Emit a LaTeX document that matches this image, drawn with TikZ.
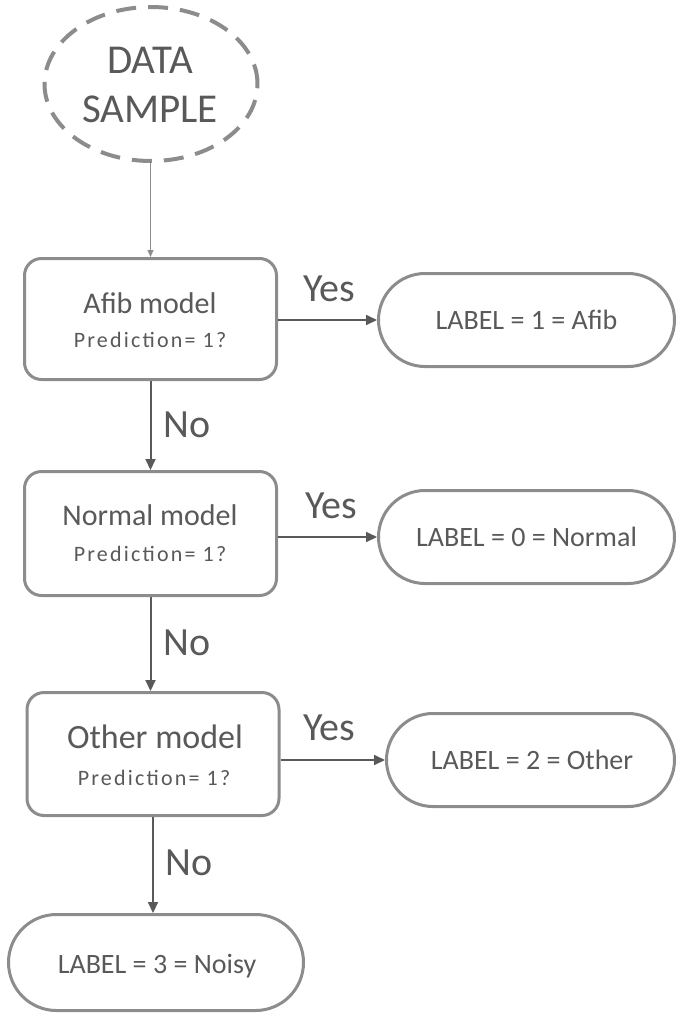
\documentclass[tikz,border=0pt]{standalone}
\usepackage{fontspec}
\setmainfont{Carlito}
\newfontfamily\predfont[LetterSpace=10]{Carlito}
\usetikzlibrary{arrows.meta,shapes.geometric,shapes.misc}
\definecolor{boxgray}{HTML}{8C8C8C}
\definecolor{txtgray}{HTML}{595959}
\definecolor{arrgray}{HTML}{595959}
\tikzset{
  box/.style={draw=boxgray, line width=3pt, rounded corners=17pt, fill=white,
    minimum width=252pt, minimum height=121pt, inner sep=0pt},
  pill/.style={draw=boxgray, line width=3pt, rounded rectangle, fill=white,
    minimum width=296pt, minimum height=93pt, inner sep=0pt},
  txt/.style={text=txtgray, inner sep=0pt, anchor=base},
  flow/.style={draw=arrgray, line width=2pt, -{Triangle[length=11pt,width=10pt]}},
  thinflow/.style={draw=boxgray, line width=1.2pt, -{Triangle[length=7pt,width=6pt]}},
  lbl/.style={txt, anchor=base west, font=\fontsize{40}{48}\selectfont},
  big/.style={txt, font=\fontsize{41}{49}\selectfont},
  model/.style={txt, font=\fontsize{30}{36}\selectfont},
  pred/.style={txt, font=\predfont\fontsize{22}{26}\selectfont},
  res/.style={txt, font=\fontsize{28}{33}\selectfont},
}
\begin{document}
\begin{tikzpicture}[x=1pt,y=-1pt]
\useasboundingbox (0,0) rectangle (688,1015);

% start ellipse
\node[ellipse, draw=boxgray, line width=4pt, dash pattern=on 20pt off 12pt,
  minimum width=213pt, minimum height=154pt, inner sep=0pt] (data) at (151,84) {};
\node[big] (dataT1) at (150,73) {DATA};
\node[big] (dataT2) at (150,122) {SAMPLE};

% decision boxes
\node[box] (afib) at (150.5,319) {};
\node[model] (afibT1) at (150,313) {Afib model};
\node[pred] (afibT2) at (150,347) {Prediction= 1?};

\node[box, minimum height=124pt] (normal) at (150.5,533.5) {};
\node[model] (normalT1) at (150,525) {Normal model};
\node[pred] (normalT2) at (150,561) {Prediction= 1?};

\node[box, minimum height=123pt] (other) at (153,754) {};
\node[txt, font=\fontsize{34}{40}\selectfont] (otherT1) at (155,748) {Other model};
\node[pred] (otherT2) at (154,785) {Prediction= 1?};

% result pills
\node[pill] (afibL) at (526.5,320) {};
\node[res] (afibLT) at (526.5,329) {LABEL = 1 = Afib};

\node[pill] (normalL) at (526.5,537) {};
\node[res] (normalLT) at (526.5,546) {LABEL = 0 = Normal};

\node[pill, minimum width=288pt] (otherL) at (530.5,760) {};
\node[res] (otherLT) at (532,769) {LABEL = 2 = Other};

\node[pill, minimum width=295pt, minimum height=96pt] (noisy) at (156,962.5) {};
\node[res] (noisyT) at (157,973) {LABEL = 3 = Noisy};

% connectors
\draw[thinflow] (data.south -| afib.north) -- (afib.north);

\draw[flow] (afib.east |- afibL.west) -- (afibL.west);
\draw[flow] (normal.east |- normalL.west) -- (normalL.west);
\draw[flow] (other.east |- otherL.west) -- (otherL.west);

\draw[flow] (afib.south) -- (afib.south |- normal.north);
\draw[flow] (normal.south) -- (normal.south |- other.north);
\draw[flow] (other.south) -- (other.south |- noisy.north);

% edge labels
\node[lbl] (yes1) at (303,301) {Yes};
\node[lbl] (yes2) at (305,518) {Yes};
\node[lbl] (yes3) at (303,740) {Yes};
\node[lbl] (no1) at (163,437) {No};
\node[lbl] (no2) at (163,655) {No};
\node[lbl] (no3) at (165,875) {No};
\end{tikzpicture}
\end{document}
